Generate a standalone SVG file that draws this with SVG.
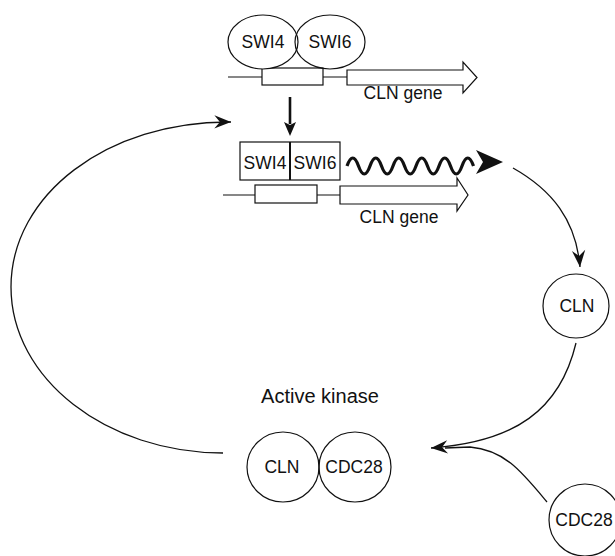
<svg xmlns="http://www.w3.org/2000/svg" width="615" height="556" viewBox="0 0 615 556">
<style>
.o{fill:none;stroke:#111;stroke-width:1.2}
.w{fill:#fff;stroke:#111;stroke-width:1.2}
.t{font-family:"Liberation Sans",Arial,sans-serif;font-size:17.5px;fill:#111;text-anchor:middle}
.c{fill:none;stroke:#111;stroke-width:1.3}
</style>
<defs>
<marker id="ah" markerUnits="userSpaceOnUse" markerWidth="20" markerHeight="20" viewBox="-16 -8 18 16" refX="0" refY="0" orient="auto">
<path d="M0,0 L-15,-6 L-10,0 L-15,6 Z" fill="#111"/>
</marker>
</defs>
<rect width="615" height="556" fill="#fff"/>
<g id="gene1">
<line class="o" x1="228" y1="77" x2="347" y2="77"/>
<rect class="w" x="262" y="68" width="61" height="17"/>
<path class="w" d="M347,70 L463,70 L463,62 L477,77.5 L463,93 L463,85 L347,85 Z"/>
<text class="t" x="403" y="99">CLN gene</text>
</g>
<g id="swi4-top">
<ellipse class="w" cx="263" cy="42" rx="35" ry="27"/>
<text class="t" x="263" y="48">SWI4</text>
</g>
<g id="swi6-top">
<ellipse class="o" cx="330" cy="42" rx="35" ry="27"/>
<text class="t" x="330" y="48">SWI6</text>
</g>
<g id="gene2">
<line class="o" x1="223" y1="195" x2="340" y2="195"/>
<rect class="w" x="255" y="185" width="62" height="18"/>
<path class="w" d="M340,186 L457,186 L457,178 L468,195 L457,211 L457,204 L340,204 Z"/>
<text class="t" x="399" y="223">CLN gene</text>
</g>
<g id="swi-complex">
<rect class="w" x="240" y="142" width="100" height="38"/>
<line x1="290" y1="142" x2="290" y2="180" stroke="#111" stroke-width="2"/>
<text class="t" x="265" y="169">SWI4</text>
<text class="t" x="315" y="169">SWI6</text>
</g>
<g id="cln-right">
<ellipse class="o" cx="576" cy="306" rx="33" ry="32"/>
<text class="t" x="577" y="312">CLN</text>
</g>
<g id="active-kinase">
<text class="t" x="320" y="403" style="font-size:20px">Active kinase</text>
<ellipse class="o" cx="283" cy="467" rx="36" ry="35"/>
<ellipse class="o" cx="355" cy="467" rx="36" ry="35"/>
<text class="t" x="282" y="473">CLN</text>
<text class="t" x="354" y="473">CDC28</text>
</g>
<g id="cdc28-right">
<circle class="o" cx="585" cy="520" r="36"/>
<text class="t" x="584" y="526">CDC28</text>
</g>
<g id="connectors">
<line x1="290" y1="97" x2="290" y2="124" stroke="#111" stroke-width="2.6"/>
<path d="M290,136 L284,122 L290,125 L296,122 Z" fill="#111"/>
<path d="M347,166 q5.75,-16 11.5,0 t11.5,0 t11.5,0 t11.5,0 t11.5,0 t11.5,0 t11.5,0 t11.5,0 t11.5,0 t11.5,0 t11.5,0" fill="none" stroke="#111" stroke-width="3.2"/>
<path d="M503,162 L476,150 L483,162 L476,174 Z" fill="#111"/>
<path class="c" d="M223,453 C107,453 11,379 11,287 C11,195 107,121 231,122" marker-end="url(#ah)"/>
<path class="c" d="M513,168 C552,190 576,220 580,267" marker-end="url(#ah)"/>
<path class="c" d="M576,343 C560,410 515,442 431,448" marker-end="url(#ah)"/>
<path class="c" d="M547,502 C522,472 505,450 470,447 L445,448"/>
</g>
</svg>
